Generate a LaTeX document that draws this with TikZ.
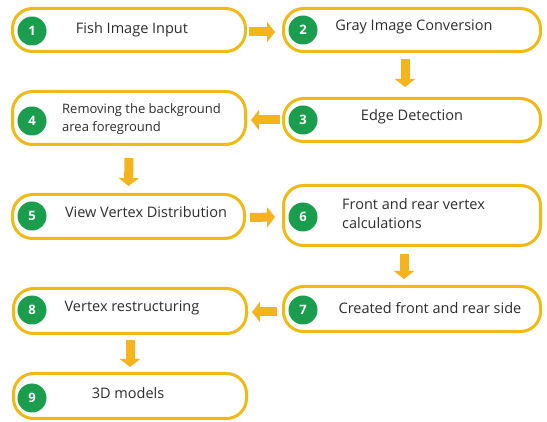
\documentclass[tikz,border=0pt]{standalone}
\usepackage{fontspec}
\setmainfont{Open Sans}
\usetikzlibrary{arrows.meta}
\definecolor{gold}{RGB}{240,186,22}
\definecolor{arrowgold}{RGB}{246,180,28}
\definecolor{stepgreen}{RGB}{26,158,78}
\definecolor{txt}{RGB}{45,45,45}
\tikzset{
  stepbox/.style={draw=gold, line width=3pt, fill=white, rounded corners=20pt, inner sep=0pt},
  badge/.style={circle, fill=stepgreen, minimum size=29pt, inner sep=0pt, text=white, font=\fontsize{13}{13}\selectfont\bfseries},
  label/.style={text=txt, font=\fontsize{14.5}{19}\selectfont, inner sep=0pt},
  flow/.style={draw=arrowgold, line width=9pt, -{Triangle[length=8pt,width=20pt]}}
}
\begin{document}
\begin{tikzpicture}[x=1pt, y=-1pt]
\useasboundingbox (0,0) rectangle (547,422);
\fill[white] (0,0) rectangle (547,422);

% step boxes
\node[stepbox, minimum width=233pt, minimum height=43pt] (b1) at (129,30) {};
\node[stepbox, minimum width=257pt, minimum height=43pt] (b2) at (412,30) {};
\node[stepbox, minimum width=257pt, minimum height=43pt] (b3) at (412,120) {};
\node[stepbox, minimum width=233pt, minimum height=53pt] (b4) at (129,118) {};
\node[stepbox, minimum width=232pt, minimum height=44pt] (b5) at (128.5,216.5) {};
\node[stepbox, minimum width=257pt, minimum height=60pt] (b6) at (412,215.5) {};
\node[stepbox, minimum width=257pt, minimum height=45pt] (b7) at (412,309) {};
\node[stepbox, minimum width=233pt, minimum height=45pt] (b8) at (130,311) {};
\node[stepbox, minimum width=233pt, minimum height=45pt] (b9) at (130,396) {};

% numbered badges
\node[badge] (n1) at (32,31) {1};
\node[badge] (n2) at (303,30) {2};
\node[badge] (n3) at (303,120) {3};
\node[badge] (n4) at (32,121) {4};
\node[badge] (n5) at (32,216) {5};
\node[badge] (n6) at (303,217) {6};
\node[badge] (n7) at (303,310) {7};
\node[badge] (n8) at (32,310) {8};
\node[badge] (n9) at (32,398) {9};

% step texts
\node[label] (t1) at (132,30) {Fish Image Input};
\node[label] (t2) at (414,27) {Gray Image Conversion};
\node[label] (t3) at (412,117) {Edge Detection};
\node[label, font=\fontsize{13}{18.5}\selectfont, anchor=west, align=left] (t4) at (62,119) {Removing the background\\area foreground};
\node[label] (t5) at (146,212) {View Vertex Distribution};
\node[label, anchor=west, align=left] (t6) at (342,214) {Front and rear vertex\\calculations};
\node[label] (t7) at (430,308) {Created front and rear side};
\node[label] (t8) at (132,308) {Vertex restructuring};
\node[label] (t9) at (128,393) {3D models};

% flow arrows (offsets in picture units: +y runs downwards)
\draw[flow] (b1.east) ++(2,2) -- ([xshift=-7pt]b2.west |- 0,32);
\draw[flow] ([xshift=-7pt]b2.south) ++(0,6) -- ([xshift=-7pt,yshift=10pt]b3.north);
\draw[flow] (b3.west) ++(-2,0) -- ([xshift=4pt]b4.east |- b3.west);
\draw[flow] (b4.south) ++(0,12) -- ([yshift=7pt]b5.north);
\draw[flow] (b5.east) ++(4,1) -- ([xshift=-7pt]b6.west |- 0,217);
\draw[flow] ([xshift=-8pt]b6.south) ++(0,7) -- ([xshift=-8pt,yshift=6pt]b7.north);
\draw[flow] (b7.west) ++(-5,3) -- ([xshift=4pt]b8.east |- 0,312);
\draw[flow] (b8.south) ++(0,5) -- ([yshift=5pt]b9.north);
\end{tikzpicture}
\end{document}
